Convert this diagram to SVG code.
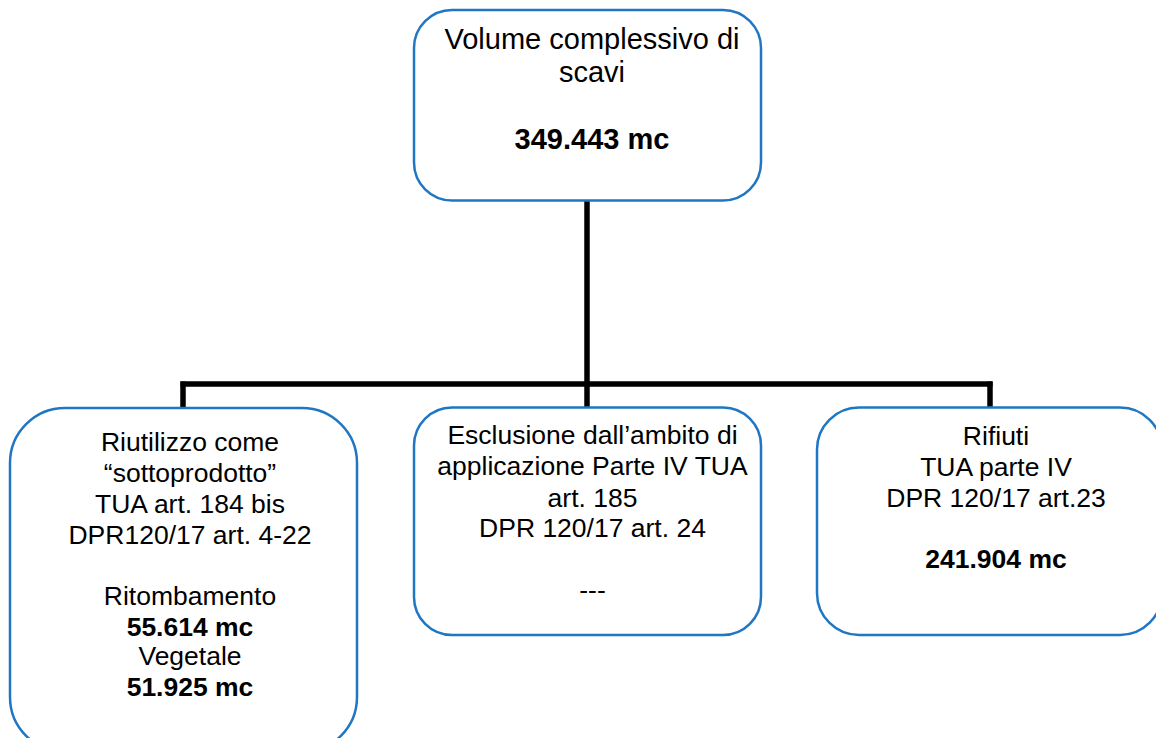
<svg xmlns="http://www.w3.org/2000/svg" width="1156" height="738" viewBox="0 0 1156 738">
<style>
.box{fill:#fff;stroke:#1f77c4;stroke-width:2.5}
.t{font-family:"Liberation Sans",Arial,sans-serif;fill:#000;text-anchor:middle}
.top{font-size:29px}
.sub{font-size:26.5px}
.b{font-weight:bold}
.c{stroke:#000;stroke-width:5.5;fill:none;stroke-linecap:butt}
</style>
<rect width="1156" height="738" fill="#fff"/>
<g id="connectors">
<line class="c" x1="587" y1="201" x2="587" y2="407"/>
<line class="c" x1="180.5" y1="384" x2="992.5" y2="384"/>
<line class="c" x1="183" y1="381.5" x2="183" y2="408"/>
<line class="c" x1="990" y1="381.5" x2="990" y2="407"/>
</g>
<g id="node-top">
<rect class="box" x="414" y="10" width="347" height="190.5" rx="38"/>
<text class="t top" x="592" y="49">Volume complessivo di</text>
<text class="t top" x="592" y="82">scavi</text>
<text class="t top b" x="592" y="149">349.443 mc</text>
</g>
<g id="node-left">
<rect class="box" x="10" y="408" width="347" height="344" rx="55"/>
<text class="t sub" x="190" y="451">Riutilizzo come</text>
<text class="t sub" x="190" y="482">“sottoprodotto”</text>
<text class="t sub" x="190" y="513">TUA art. 184 bis</text>
<text class="t sub" x="190" y="543.5">DPR120/17 art. 4-22</text>
<text class="t sub" x="190" y="604.5">Ritombamento</text>
<text class="t sub b" x="190" y="635.5">55.614 mc</text>
<text class="t sub" x="190" y="665">Vegetale</text>
<text class="t sub b" x="190" y="695.5">51.925 mc</text>
</g>
<g id="node-middle">
<rect class="box" x="414" y="407.5" width="347" height="227.5" rx="38"/>
<text class="t sub" x="592.5" y="444">Esclusione dall’ambito di</text>
<text class="t sub" x="592.5" y="475">applicazione Parte IV TUA</text>
<text class="t sub" x="592.5" y="506.5">art. 185</text>
<text class="t sub" x="592.5" y="537">DPR 120/17 art. 24</text>
<text class="t sub" x="592.5" y="599">---</text>
</g>
<g id="node-right">
<rect class="box" x="817" y="407.5" width="345" height="227.5" rx="42"/>
<text class="t sub" x="996" y="444.5">Rifiuti</text>
<text class="t sub" x="996" y="476">TUA parte IV</text>
<text class="t sub" x="996" y="506.5">DPR 120/17 art.23</text>
<text class="t sub b" x="996" y="567.5">241.904 mc</text>
</g>
</svg>
